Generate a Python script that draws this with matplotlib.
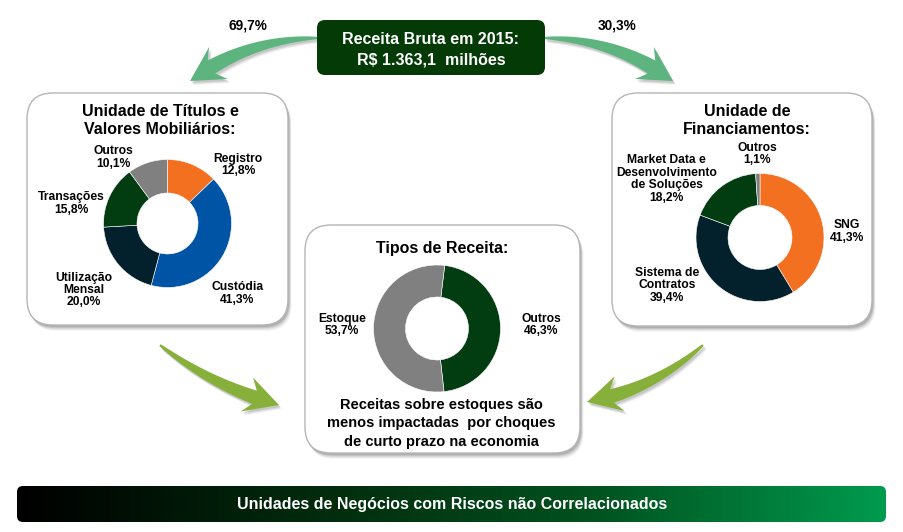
import matplotlib
matplotlib.use('Agg')
import matplotlib.pyplot as plt
import numpy as np
from matplotlib.patches import FancyBboxPatch, Polygon
from matplotlib.colors import LinearSegmentedColormap

plt.rcParams['font.family'] = ['Liberation Sans', 'DejaVu Sans']

# ---------------- data ----------------
total_title = ['Receita Bruta em 2015:', 'R$ 1.363,1  milhões']
split_values = [69.7, 30.3]

tvm_title = ['Unidade de Títulos e', 'Valores Mobiliários:']
tvm_labels = ['Registro', 'Custódia', 'Utilização\nMensal', 'Transações', 'Outros']
tvm_values = [12.8, 41.3, 20.0, 15.8, 10.1]

fin_title = ['Unidade de', 'Financiamentos:']
fin_labels = ['SNG', 'Sistema de\nContratos', 'Market Data e\nDesenvolvimento\nde Soluções', 'Outros']
fin_values = [41.3, 39.4, 18.2, 1.1]

tipo_title = ['Tipos de Receita:']
tipo_labels = ['Outros', 'Estoque']
tipo_values = [46.3, 53.7]
tipo_note = ['Receitas sobre estoques são', 'menos impactadas  por choques', 'de curto prazo na economia']

footer = 'Unidades de Negócios com Riscos não Correlacionados'

# ---------------- styles ----------------
ORANGE = '#F37021'
BLUE = '#0054A6'
NAVY = '#03202D'
DKGREEN = '#023D12'
GRAY = '#808080'
tvm_colors = [ORANGE, BLUE, NAVY, DKGREEN, GRAY]
fin_colors = [ORANGE, NAVY, DKGREEN, GRAY]
tipo_colors = [DKGREEN, GRAY]

W, H = 904, 532
fig = plt.figure(figsize=(W / 100, H / 100), dpi=100)
ax = fig.add_axes([0, 0, 1, 1])
ax.set_xlim(0, W)
ax.set_ylim(H, 0)
ax.axis('off')


def pct(v):
    return f"{v:.1f}".replace('.', ',') + '%'


def rbox(x0, y0, x1, y1, r, fc, ec='none', lw=0.0, z=2, shadow=True):
    if shadow:
        for off, a in [(6, 0.04), (5, 0.05), (4, 0.07), (3, 0.09), (2, 0.1)]:
            ax.add_patch(FancyBboxPatch((x0 + off * 0.6, y0 + off), x1 - x0, y1 - y0,
                                        boxstyle=f"round,pad=0,rounding_size={r}",
                                        fc='black', ec='none', alpha=a, zorder=z - 0.5))
    p = FancyBboxPatch((x0, y0), x1 - x0, y1 - y0,
                       boxstyle=f"round,pad=0,rounding_size={r}",
                       fc=fc, ec=ec, lw=lw, zorder=z)
    ax.add_patch(p)
    return p


def donut(cx, cy, R, rin, values, colors, start):
    a = fig.add_axes([(cx - R) / W, (H - cy - R) / H, 2 * R / W, 2 * R / H])
    a.pie(values, colors=colors, startangle=start, counterclock=False, radius=1,
          wedgeprops=dict(width=1 - rin / R, edgecolor='white', linewidth=0.4))
    a.set_xlim(-1, 1)
    a.set_ylim(-1, 1)
    a.axis('off')
    return a


def arrow_poly(p0, p1, rad, w0, w1, hw, hl):
    p0 = np.asarray(p0, float)
    p1 = np.asarray(p1, float)
    d = p1 - p0
    c = (p0 + p1) / 2 + rad * np.array([-d[1], d[0]])
    t = np.linspace(0, 1, 300)[:, None]
    B = (1 - t) ** 2 * p0 + 2 * (1 - t) * t * c + t ** 2 * p1
    seg = np.hypot(*np.diff(B, axis=0).T)
    s = np.concatenate([[0], np.cumsum(seg)])
    L = s[-1]
    neck = np.searchsorted(s, L - hl)
    Bt = B[:neck + 1]
    tan = np.gradient(Bt, axis=0)
    tan /= np.hypot(tan[:, 0], tan[:, 1])[:, None]
    nrm = np.stack([-tan[:, 1], tan[:, 0]], axis=1)
    frac = s[:neck + 1] / s[neck]
    w = w0 + (w1 - w0) * frac ** 0.8
    left = Bt + nrm * (w / 2)[:, None]
    right = Bt - nrm * (w / 2)[:, None]
    base = Bt[-1]
    tb = tan[-1]
    nb = nrm[-1]
    back = base - tb * 8
    head = [base + nb * (w1 / 2), back + nb * (hw / 2), p1, back - nb * (hw / 2), base - nb * (w1 / 2)]
    pts = np.vstack([left, head, right[::-1]])
    return pts


def arrow(p0, p1, rad, color, w0, w1, hw, hl, z=3):
    pts = arrow_poly(p0, p1, rad, w0, w1, hw, hl)
    for off, a in [(4, 0.06), (3, 0.08), (2, 0.1)]:
        ax.add_patch(Polygon(pts + np.array([off * 0.7, off]), closed=True, fc='black',
                             ec='none', alpha=a, zorder=z - 0.5))
    ax.add_patch(Polygon(pts, closed=True, fc=color, ec='none', zorder=z))


def txt(x, y, s, fs, color='black', ls=1.2, z=5):
    ax.text(x, y, s, ha='center', va='center', fontsize=fs, fontweight='bold',
            color=color, linespacing=ls, zorder=z)


# ---------------- panels ----------------
rbox(27, 93, 288, 325, 26, 'white', ec='#b5b5b5', lw=1.0)
rbox(612, 93, 872, 326, 26, 'white', ec='#b5b5b5', lw=1.0)
rbox(305, 225, 580, 453, 26, 'white', ec='#b5b5b5', lw=1.0)

# top box
rbox(317, 20, 545, 75, 8, '#033A06', shadow=False, z=4)
txt(431, 39, total_title[0], 11.5, color='white')
txt(431, 60, total_title[1], 11.5, color='white')

# split percentages
txt(248, 25, pct(split_values[0]), 9.8)
txt(617, 25, pct(split_values[1]), 9.8)

# arrows
TOPG = '#5DB47E'
BOTG = '#86B03A'
arrow((318, 38), (190, 81), 0.16, TOPG, 2, 15, 37, 26)
arrow((545, 38), (673, 81), -0.16, TOPG, 2, 15, 37, 26)
arrow((160, 345), (279, 405), 0.1, BOTG, 2, 14, 36, 26)
arrow((703, 345), (587, 402), -0.14, BOTG, 2, 14, 36, 26)

# titles
txt(160, 111, tvm_title[0], 11.5)
txt(160, 129.5, tvm_title[1], 11.5)
txt(747, 111, fin_title[0], 11.5)
txt(747, 130, fin_title[1], 11.5)
txt(442, 248, tipo_title[0], 11.5)

# donuts
donut(167.5, 223.5, 64, 30.5, tvm_values, tvm_colors, 90)
donut(760, 237.5, 64, 32, fin_values, fin_colors, 90)
donut(437, 328.5, 63.5, 31.5, tipo_values, tipo_colors, 83)

# donut labels
tvm_pos = [(238, 165), (237.5, 293.5), (84, 290), (71, 203.5), (113, 157.5)]
for lab, v, (x, y) in zip(tvm_labels, tvm_values, tvm_pos):
    txt(x, y, lab + '\n' + pct(v), 8.7, ls=1.05)

fin_pos = [(846.7, 231.5), (667, 285.5), (666.7, 179), (757.5, 154)]
for lab, v, (x, y) in zip(fin_labels, fin_values, fin_pos):
    txt(x, y, lab + '\n' + pct(v), 8.7, ls=1.05)

tipo_pos = [(541, 325), (341.7, 325)]
for lab, v, (x, y) in zip(tipo_labels, tipo_values, tipo_pos):
    txt(x, y, lab + '\n' + pct(v), 8.7, ls=1.05)

for i, line in enumerate(tipo_note):
    txt(441.7, 405 + i * 18.3, line, 10.5)

# footer gradient bar
bar = FancyBboxPatch((17, 486), 869, 36, boxstyle="round,pad=0,rounding_size=6",
                     fc='none', ec='none', zorder=3)
ax.add_patch(bar)
cmap = LinearSegmentedColormap.from_list('g', ['#000000', '#012a0c', '#01521f', '#009A4E'])
grad = np.linspace(0, 1, 256).reshape(1, -1)
im = ax.imshow(grad, cmap=cmap, extent=(17, 886, 522, 486), aspect='auto', zorder=3,
               interpolation='bilinear')
im.set_clip_path(bar)
txt(452, 504, footer, 11.5, color='white')

ax.set_xlim(0, W)
ax.set_ylim(H, 0)
fig.savefig('out.png', dpi=100)
